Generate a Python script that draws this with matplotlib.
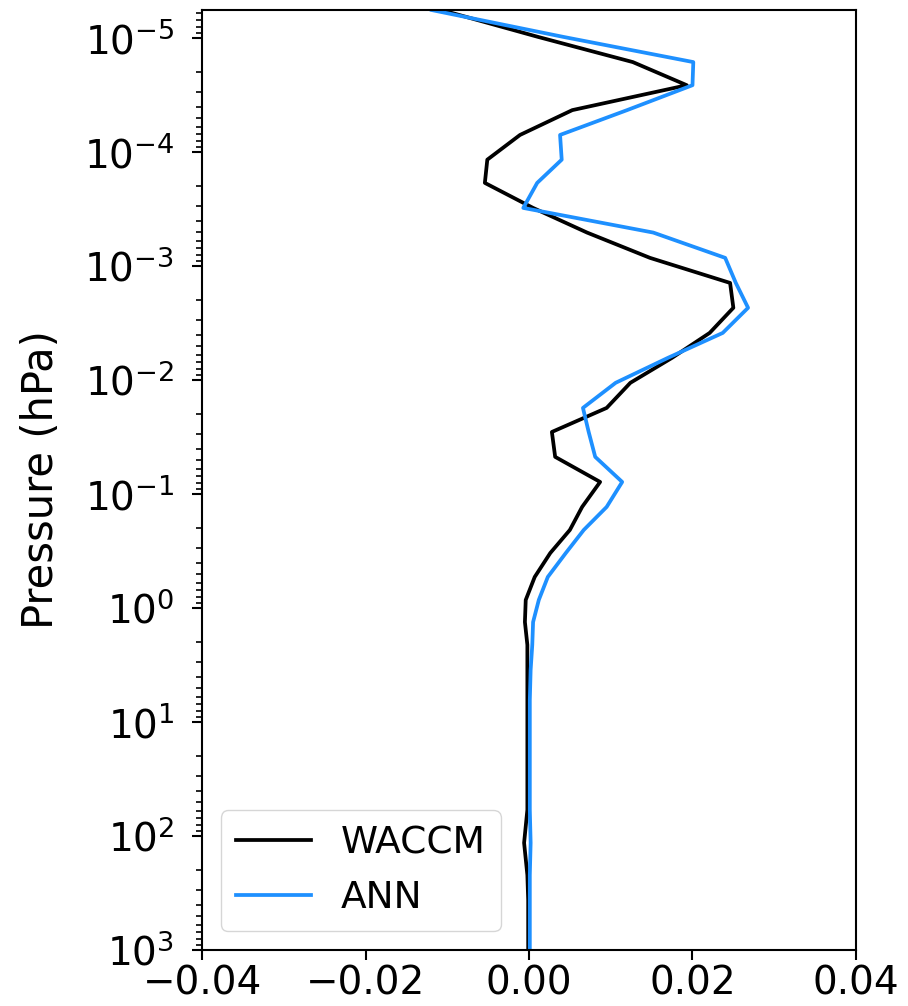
import numpy as np
import matplotlib
matplotlib.use("Agg")
import matplotlib.pyplot as plt

# pressure levels (hPa), top of model down to surface
pressure = [5.7e-6, 9.8e-6, 1.63e-5, 2.6e-5, 4.3e-5, 7.1e-5, 1.17e-4, 1.87e-4,
            3.1e-4, 5.1e-4, 8.5e-4, 1.41e-3, 2.33e-3, 3.87e-3, 6.4e-3, 1.06e-2,
            1.76e-2, 2.86e-2, 4.73e-2, 7.85e-2, 0.130, 0.207, 0.330, 0.535,
            0.851, 1.33, 2.11, 3.5, 6.4, 11.7, 26.0, 59.0, 115.0, 220.0,
            365.0, 600.0, 1000.0]

waccm = [-0.0107, 0.0011, 0.0127, 0.0193, 0.0053, -0.0011, -0.0051, -0.0054,
         0.0005, 0.0071, 0.0148, 0.0246, 0.0250, 0.0221, 0.0175, 0.0124,
         0.0095, 0.0028, 0.0032, 0.0087, 0.0065, 0.0050, 0.0026, 0.0007,
         -0.0004, -0.0005, -0.0002, -0.0002, -0.0002, -0.0002, -0.0002, -0.0002,
         -0.0006, -0.0002, -0.0001, -0.0001, -0.0001]

ann = [-0.0119, 0.0042, 0.0201, 0.0200, 0.0120, 0.0038, 0.0040, 0.0010,
       -0.0007, 0.0152, 0.0240, 0.0253, 0.0268, 0.0237, 0.0170, 0.0106,
       0.0066, 0.0073, 0.0081, 0.0114, 0.0095, 0.0067, 0.0045, 0.0023,
       0.0012, 0.0005, 0.0004, 0.0002, 0.0001, 0.0001, 0.0001, 0.0001,
       0.0002, 0.0001, 0.0001, 0.0001, 0.0001]

fig = plt.figure(figsize=(9.08, 10.06), dpi=100)
ax = fig.add_axes([0.2225, 0.0557, 0.7202, 0.9343])

ax.plot(waccm, pressure, color="black", lw=2.7, label="WACCM")
ax.plot(ann, pressure, color="#1E90FF", lw=2.7, label="ANN")

ax.set_yscale("log")
ax.set_ylim(1000, 5.7e-6)
ax.set_xlim(-0.04, 0.04)
ax.set_xticks([-0.04, -0.02, 0.00, 0.02, 0.04])
ax.set_ylabel("Pressure (hPa)", fontsize=30, labelpad=16)

ax.tick_params(axis="both", which="major", labelsize=28, length=7, width=1.5)
ax.tick_params(axis="y", which="major", pad=13)
ax.tick_params(axis="y", which="minor", length=4, width=1.2)
for s in ax.spines.values():
    s.set_linewidth(1.5)

ax.legend(loc="lower left", fontsize=27, borderaxespad=0.5)

fig.savefig("out.png", dpi=100)
